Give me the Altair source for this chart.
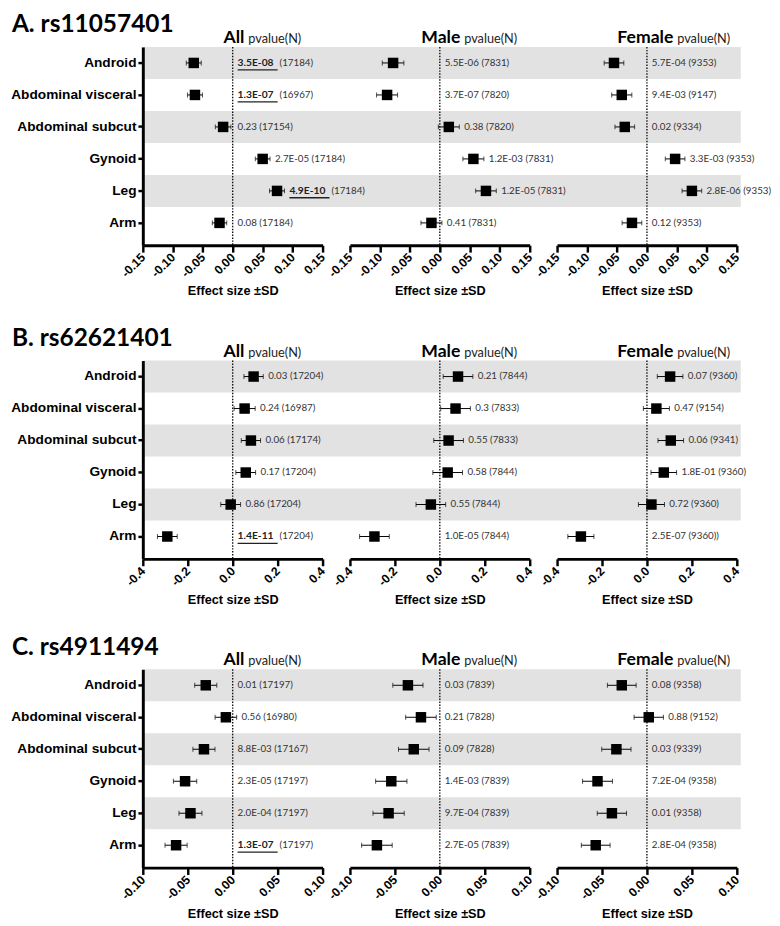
import altair as alt
import pandas as pd

rows = ["Android", "Abdominal visceral", "Abdominal subcut", "Gynoid", "Leg", "Arm"]
gray_rows = ["Android", "Abdominal subcut", "Leg"]

# ---------- Panel A: rs11057401 ----------
effA_all = [-0.065, -0.063, -0.016, 0.050, 0.074, -0.022]
sdA_all = [0.0125, 0.0125, 0.013, 0.0123, 0.0125, 0.012]
pA_all = ["3.5E-08", "1.3E-07", "0.23", "2.7E-05", "4.9E-10", "0.08"]
nA_all = ["17184", "16967", "17154", "17184", "17184", "17184"]
sigA_all = [True, True, False, False, True, False]

effA_male = [-0.078, -0.088, 0.015, 0.056, 0.077, -0.014]
sdA_male = [0.018, 0.0175, 0.0175, 0.0175, 0.0172, 0.0175]
pA_male = ["5.5E-06", "3.7E-07", "0.38", "1.2E-03", "1.2E-05", "0.41"]
nA_male = ["7831", "7820", "7820", "7831", "7831", "7831"]
sigA_male = [False] * 6

effA_female = [-0.055, -0.042, -0.037, 0.047, 0.075, -0.025]
sdA_female = [0.0164, 0.0168, 0.0164, 0.0164, 0.0164, 0.0164]
pA_female = ["5.7E-04", "9.4E-03", "0.02", "3.3E-03", "2.8E-06", "0.12"]
nA_female = ["9353", "9147", "9334", "9353", "9353", "9353"]
sigA_female = [False] * 6

# ---------- Panel B: rs62621401 ----------
effB_all = [0.093, 0.053, 0.081, 0.058, -0.009, -0.291]
sdB_all = [0.043, 0.047, 0.043, 0.044, 0.044, 0.044]
pB_all = ["0.03", "0.24", "0.06", "0.17", "0.86", "1.4E-11"]
nB_all = ["17204", "16987", "17174", "17204", "17204", "17204"]
sigB_all = [False, False, False, False, False, True]

effB_male = [0.081, 0.070, 0.039, 0.035, -0.040, -0.291]
sdB_male = [0.066, 0.066, 0.066, 0.066, 0.066, 0.066]
pB_male = ["0.21", "0.3", "0.55", "0.58", "0.55", "1.0E-05"]
nB_male = ["7844", "7833", "7833", "7844", "7844", "7844"]
sigB_male = [False] * 6

effB_female = [0.103, 0.042, 0.106, 0.075, 0.020, -0.294]
sdB_female = [0.057, 0.058, 0.057, 0.057, 0.058, 0.058]
pB_female = ["0.07", "0.47", "0.06", "1.8E-01", "0.72", "2.5E-07"]
nB_female = ["9360", "9154", "9341", "9360", "9360", "9360)"]
sigB_female = [False] * 6

# ---------- Panel C: rs4911494 ----------
effC_all = [-0.030, -0.0076, -0.032, -0.053, -0.047, -0.063]
sdC_all = [0.0123, 0.012, 0.0123, 0.013, 0.0128, 0.0123]
pC_all = ["0.01", "0.56", "8.8E-03", "2.3E-05", "2.0E-04", "1.3E-07"]
nC_all = ["17197", "16980", "17167", "17197", "17197", "17197"]
sigC_all = [False, False, False, False, False, True]

effC_male = [-0.0355, -0.021, -0.029, -0.054, -0.057, -0.070]
sdC_male = [0.0168, 0.017, 0.017, 0.0174, 0.0174, 0.017]
pC_male = ["0.03", "0.21", "0.09", "1.4E-03", "9.7E-04", "2.7E-05"]
nC_male = ["7839", "7828", "7828", "7839", "7839", "7839"]
sigC_male = [False] * 6

effC_female = [-0.028, 0.002, -0.034, -0.055, -0.039, -0.057]
sdC_female = [0.016, 0.0163, 0.0163, 0.0166, 0.0163, 0.016]
pC_female = ["0.08", "0.88", "0.03", "7.2E-04", "0.01", "2.8E-04"]
nC_female = ["9358", "9152", "9339", "9358", "9358", "9358"]
sigC_female = [False] * 6

ticksA = [-0.15, -0.10, -0.05, 0.0, 0.05, 0.10, 0.15]
ticksB = [-0.4, -0.2, 0.0, 0.2, 0.4]
ticksC = [-0.10, -0.05, 0.0, 0.05, 0.10]

panel_titles = ["A. rs11057401", "B. rs62621401", "C. rs4911494"]

W = 184
H = 203
GAP = 28
LABEL_FONT = "Liberation Sans"
TEXT_FONT = "Lato"
header_right = {"All": 104, "Male": 113, "Female": 119}


def make_sub(eff, sd, p, n, sig, ticks, fmt, group, title=None):
    df = pd.DataFrame({"row": rows, "eff": eff, "sd": sd, "p": p, "n": n, "sig": sig})
    df["lo"] = df["eff"] - df["sd"]
    df["hi"] = df["eff"] + df["sd"]
    df["tx"] = df["hi"].clip(lower=0)
    df["label"] = df["p"] + " (" + df["n"] + ")"
    df["ntext"] = "(" + df["n"] + ")"

    xscale = alt.Scale(domain=[ticks[0], ticks[-1]], nice=False, zero=False)
    label_expr = (
        f"datum.value < 0 ? '-' + format(-datum.value, '{fmt}') : format(datum.value, '{fmt}')"
    )
    xaxis = alt.Axis(
        values=ticks, labelExpr=label_expr, labelAngle=-45, labelAlign="right",
        labelBaseline="middle", labelFont=LABEL_FONT, labelFontWeight="bold",
        labelFontSize=12.5, labelColor="black", labelPadding=3, labelFlush=False,
        labelOverlap=False, tickSize=7, tickWidth=2.5, tickColor="black",
        domainColor="black", domainWidth=3, grid=False,
        title="Effect size ±SD", titleFont=LABEL_FONT, titleFontSize=13,
        titleFontWeight="bold", titleColor="black", titlePadding=6,
    )
    if group == "All":
        yaxis = alt.Axis(
            title=None, labelFont=LABEL_FONT, labelFontWeight="bold", labelFontSize=14,
            labelColor="black", labelPadding=2, tickSize=5, tickWidth=2.5,
            tickColor="black", domainColor="black", domainWidth=3, grid=False,
        )
    else:
        yaxis = None
    yscale = alt.Scale(type="band", domain=rows, paddingInner=0, paddingOuter=0.1, align=0)
    if yaxis is None:
        Y = alt.Y("row:N", scale=yscale, axis=None)
    else:
        Y = alt.Y("row:N", scale=yscale, axis=yaxis)

    base = alt.Chart(df)
    layers = []

    if group == "All":
        # background bands span all three sub-panels of the row
        bands = base.transform_filter(
            alt.FieldOneOfPredicate(field="row", oneOf=gray_rows)
        ).mark_rect(color="#e2e2e2").encode(
            x=alt.value(0), x2=alt.value(3 * W + 2 * GAP + 4), y=Y
        )
        layers.append(bands)

    zero = alt.Chart(pd.DataFrame({"z": [0.0]})).mark_rule(
        color="black", strokeDash=[1.5, 1.5], strokeWidth=1.3
    ).encode(x=alt.X("z:Q", scale=xscale, axis=xaxis))

    err = base.mark_rule(color="black", strokeWidth=1).encode(
        x=alt.X("lo:Q", scale=xscale, axis=xaxis), x2="hi:Q", y=Y
    )
    cap_lo = base.mark_tick(color="black", thickness=1, size=5).encode(
        x=alt.X("lo:Q", scale=xscale, axis=xaxis), y=Y
    )
    cap_hi = base.mark_tick(color="black", thickness=1, size=5).encode(
        x=alt.X("hi:Q", scale=xscale, axis=xaxis), y=Y
    )
    pts = base.mark_point(shape="square", filled=True, size=115, color="black", opacity=1).encode(
        x=alt.X("eff:Q", scale=xscale, axis=xaxis), y=Y
    )
    txt = base.transform_filter("!datum.sig").mark_text(
        align="left", baseline="middle", dx=5, font=TEXT_FONT, fontSize=10, color="#333333"
    ).encode(x=alt.X("tx:Q", scale=xscale, axis=xaxis), y=Y, text="label:N")
    txt_bold = base.transform_filter("datum.sig").mark_text(
        align="left", baseline="middle", dx=5, font=TEXT_FONT, fontSize=10.5,
        fontWeight="bold", color="#222222"
    ).encode(x=alt.X("tx:Q", scale=xscale, axis=xaxis), y=Y, text="p:N")
    txt_n = base.transform_filter("datum.sig").mark_text(
        align="left", baseline="middle", dx=48, font=TEXT_FONT, fontSize=10, color="#333333"
    ).encode(x=alt.X("tx:Q", scale=xscale, axis=xaxis), y=Y, text="ntext:N")
    uline = base.transform_filter("datum.sig").mark_rule(
        color="#222222", strokeWidth=1.3, xOffset=5, x2Offset=46, yOffset=7
    ).encode(x=alt.X("tx:Q", scale=xscale, axis=xaxis), x2="tx:Q", y=Y)

    hdf = pd.DataFrame({"g": [group], "pv": ["pvalue(N)"], "t": [title or ""]})
    hx = header_right[group]
    head1 = alt.Chart(hdf).mark_text(
        align="right", baseline="alphabetic", font=TEXT_FONT, fontWeight="bold",
        fontSize=18, color="black"
    ).encode(x=alt.value(hx), y=alt.value(-4), text="g:N")
    head2 = alt.Chart(hdf).mark_text(
        align="left", baseline="alphabetic", font=TEXT_FONT, fontSize=13, color="#222222"
    ).encode(x=alt.value(hx + 4), y=alt.value(-4), text="pv:N")

    layers += [zero, err, cap_lo, cap_hi, pts, txt, txt_bold, txt_n, uline, head1, head2]
    if title:
        ptitle = alt.Chart(hdf).mark_text(
            align="left", baseline="alphabetic", font=TEXT_FONT, fontWeight="bold",
            fontSize=25, color="black"
        ).encode(x=alt.value(-134), y=alt.value(-15), text="t:N")
        layers.append(ptitle)
    return alt.layer(*layers).properties(width=W, height=H)


def make_row(data, ticks, fmt, title):
    subs = []
    for (eff, sd, p, n, sig), group in zip(data, ["All", "Male", "Female"]):
        subs.append(make_sub(eff, sd, p, n, sig, ticks, fmt, group,
                             title if group == "All" else None))
    return alt.hconcat(*subs, spacing=GAP, bounds="flush")


rowA = make_row([
    (effA_all, sdA_all, pA_all, nA_all, sigA_all),
    (effA_male, sdA_male, pA_male, nA_male, sigA_male),
    (effA_female, sdA_female, pA_female, nA_female, sigA_female),
], ticksA, ".2f", panel_titles[0])
rowB = make_row([
    (effB_all, sdB_all, pB_all, nB_all, sigB_all),
    (effB_male, sdB_male, pB_male, nB_male, sigB_male),
    (effB_female, sdB_female, pB_female, nB_female, sigB_female),
], ticksB, ".1f", panel_titles[1])
rowC = make_row([
    (effC_all, sdC_all, pC_all, nC_all, sigC_all),
    (effC_male, sdC_male, pC_male, nC_male, sigC_male),
    (effC_female, sdC_female, pC_female, nC_female, sigC_female),
], ticksC, ".2f", panel_titles[2])

chart = alt.vconcat(rowA, rowB, rowC, spacing=29).properties(
    padding={"left": 2, "top": -6, "right": 0, "bottom": 0}, background="white"
).configure_view(stroke=None)

chart.save("out.html", embed_options={"renderer": "svg", "actions": False})
